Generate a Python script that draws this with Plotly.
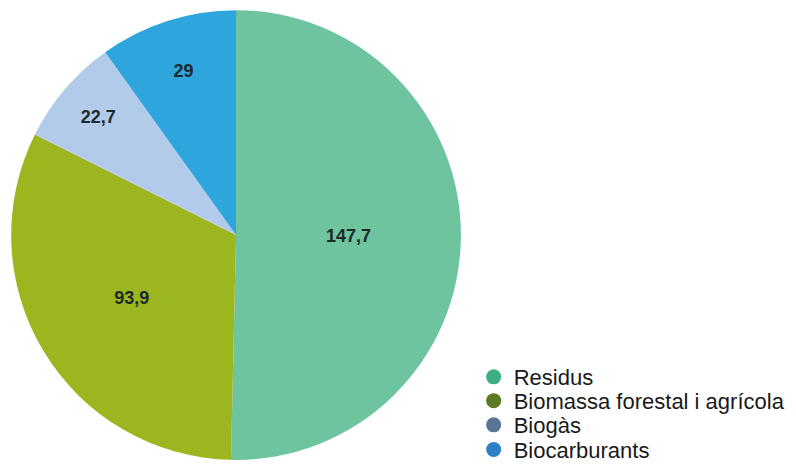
import plotly.graph_objects as go

# slices, clockwise from 12 o'clock
categories = ["Residus", "Biomassa forestal i agrícola", "Biogàs", "Biocarburants"]
values = [147.7, 93.9, 22.7, 29]
labels_text = ["147,7", "93,9", "22,7", "29"]

slice_colors = ["#6dc49e", "#9cb61f", "#b2cbea", "#2ea5dd"]
legend_colors = ["#3cb083", "#5a7a24", "#587595", "#2b80c7"]

fig = go.Figure()

fig.add_trace(go.Pie(
    labels=categories,
    values=values,
    text=labels_text,
    textinfo="text",
    textposition="inside",
    insidetextorientation="horizontal",
    textfont=dict(family="Liberation Sans, Arial", size=18, color="#1c2a2a", weight="bold"),
    marker=dict(colors=slice_colors, line=dict(width=0)),
    direction="clockwise",
    rotation=0,
    sort=False,
    showlegend=False,
    hoverinfo="label+value",
    domain=dict(x=[0.004, 0.569], y=[0.030, 0.9957]),
))

# legend dots are darker than the slices, one small legend per row
legend_ids = ["legend", "legend2", "legend3", "legend4"]
for name, col, lid in zip(categories, legend_colors, legend_ids):
    fig.add_trace(go.Scatter(
        x=[None], y=[None], mode="markers", name=name, legend=lid,
        marker=dict(size=15, color=col, symbol="circle"),
    ))

row_y = [0.208, 0.157, 0.105, 0.052]
leg_style = dict(
    x=0.585, xanchor="left", yanchor="middle",
    font=dict(family="Liberation Sans, Arial", size=22, color="#1a1a1a"),
    bgcolor="rgba(0,0,0,0)",
    itemwidth=30,
)

fig.update_layout(
    width=796, height=466,
    margin=dict(l=0, r=0, t=0, b=0, autoexpand=False),
    paper_bgcolor="white",
    plot_bgcolor="white",
    xaxis=dict(visible=False),
    yaxis=dict(visible=False),
    legend=dict(y=row_y[0], **leg_style),
    legend2=dict(y=row_y[1], **leg_style),
    legend3=dict(y=row_y[2], **leg_style),
    legend4=dict(y=row_y[3], **leg_style),
)

fig.write_html("out.html")
